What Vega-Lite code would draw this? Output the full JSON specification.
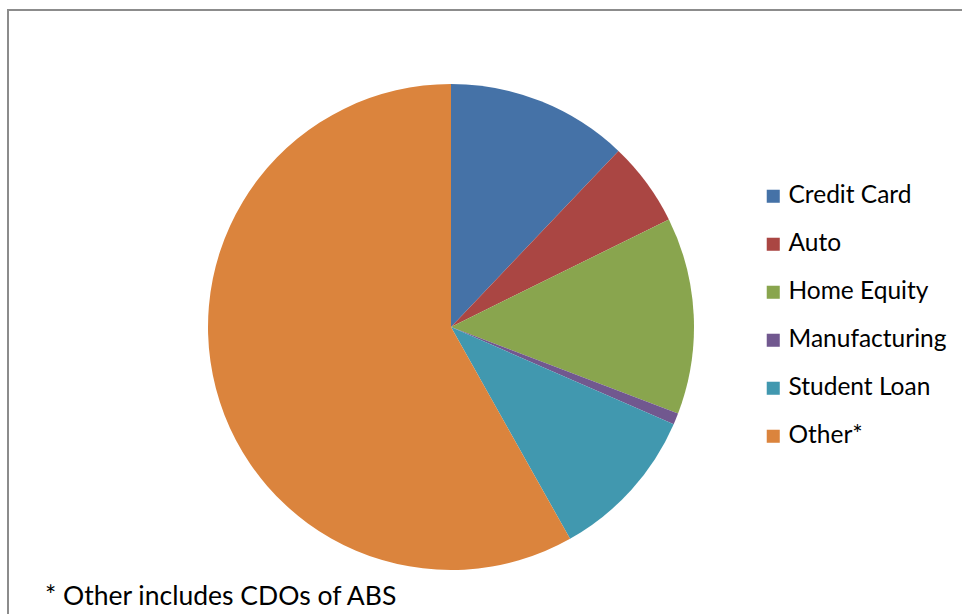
{
  "$schema": "https://vega.github.io/schema/vega-lite/v6.json",
  "width": 1000,
  "height": 610,
  "autosize": {"type": "none"},
  "padding": {"left": 8, "top": 10, "right": 0, "bottom": 0},
  "background": "white",
  "view": {"stroke": "#8c8c8c", "strokeWidth": 2},
  "config": {
    "font": "Lato"
  },
  "title": {
    "text": "* Other includes CDOs of ABS",
    "orient": "bottom",
    "anchor": "start",
    "frame": "group",
    "offset": -36,
    "dx": 37,
    "fontSize": 26.5,
    "fontWeight": "normal",
    "font": "Lato",
    "color": "#000000"
  },
  "data": {
    "values": [
      {"category": "Credit Card", "share": 12.1, "idx": 1},
      {"category": "Auto", "share": 5.6, "idx": 2},
      {"category": "Home Equity", "share": 13.1, "idx": 3},
      {"category": "Manufacturing", "share": 0.75, "idx": 4},
      {"category": "Student Loan", "share": 10.3, "idx": 5},
      {"category": "Other*", "share": 58.15, "idx": 6}
    ]
  },
  "mark": {"type": "arc", "outerRadius": 243, "x": 443, "y": 317, "stroke": null},
  "encoding": {
    "theta": {"field": "share", "type": "quantitative", "stack": true},
    "order": {"field": "idx", "type": "quantitative"},
    "color": {
      "field": "category",
      "type": "nominal",
      "scale": {
        "domain": ["Credit Card", "Auto", "Home Equity", "Manufacturing", "Student Loan", "Other*"],
        "range": ["#4572A7", "#AA4643", "#89A54E", "#71588F", "#4198AF", "#DB843D"]
      },
      "legend": {
        "title": null,
        "orient": "none",
        "legendX": 753,
        "legendY": 174,
        "symbolType": "square",
        "symbolSize": 170,
        "symbolStrokeWidth": 0,
        "labelFontSize": 24.5,
        "labelFont": "Lato",
        "labelColor": "#000000",
        "labelOffset": 3,
        "rowPadding": 23,
        "labelLimit": 300
      }
    }
  }
}
